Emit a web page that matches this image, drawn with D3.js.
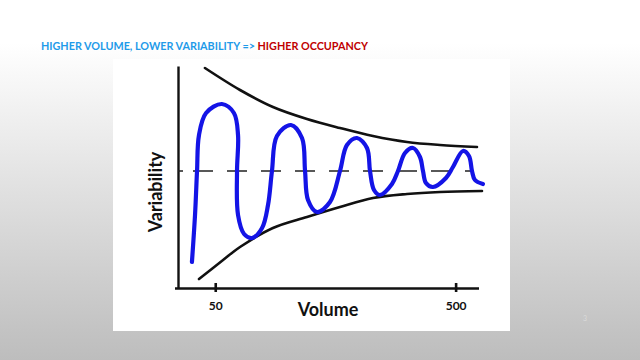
<!DOCTYPE html>
<html>
<head>
<meta charset="utf-8">
<script src="https://cdn.jsdelivr.net/npm/d3@7"></script>
<style>
  html, body { margin: 0; padding: 0; }
  svg { display: block; }
</style>
</head>
<body>
<svg id="chart" width="640" height="360"></svg>
<script>
// Hand-drawn curve: volume (log axis) and variability (0 = mean)
const blueVolume = [40.0, 41.2, 42.0, 42.8, 45.8, 53.3, 59.8, 62.2, 61.6, 62.2, 65.9, 71.1, 78.3, 82.9, 86.1, 90.3,
  103.3, 114.8, 118.2, 121.6, 132.5, 150.1, 165.2, 176.6, 194.4, 213.9, 220.2, 228.8, 242.3, 271.8, 287.9, 307.9,
  332.4, 355.4, 365.8, 376.4, 402.5, 455.8, 487.5, 536.6, 568.3, 584.9, 601.9, 649.6];
const blueVariability = [-0.91, -0.44, 0, 0.36, 0.58, 0.67, 0.58, 0.36, 0, -0.44, -0.63, -0.67, -0.57, -0.34, 0, 0.35,
  0.46, 0.33, 0, -0.29, -0.41, -0.31, 0, 0.26, 0.33, 0.23, 0, -0.19, -0.24, -0.13, 0, 0.18,
  0.23, 0.14, 0, -0.12, -0.16, -0.07, 0.04, 0.20, 0.15, 0, -0.09, -0.13];

// Upper and lower limits
const upperVolume = [45.3, 63.4, 86.9, 120.4, 165.2, 226.6, 313.9, 430.5, 613.6];
const upperVariability = [1.03, 0.81, 0.64, 0.52, 0.43, 0.35, 0.29, 0.26, 0.24];
const lowerVolume = [42.8, 53.9, 63.4, 86.9, 120.4, 165.2, 226.6, 313.9, 430.5, 643.8];
const lowerVariability = [-1.08, -0.89, -0.76, -0.57, -0.46, -0.36, -0.27, -0.23, -0.21, -0.20];

const meanVariability = 0;
const xTicks = [50, 500];

const svg = d3.select("#chart");

// slide background
const grad = svg.append("defs").append("linearGradient")
  .attr("id", "bg").attr("x1", 0).attr("y1", 0).attr("x2", 0).attr("y2", 1);
grad.append("stop").attr("offset", "12%").attr("stop-color", "#ffffff");
grad.append("stop").attr("offset", "100%").attr("stop-color", "#bdbdbd");
svg.append("rect").attr("width", 640).attr("height", 360).attr("fill", "url(#bg)");

// title
const title = svg.append("text")
  .attr("x", 41).attr("y", 50)
  .style("font-family", "Lato")
  .style("font-weight", "bold")
  .style("font-size", "10.8px");
title.append("tspan").attr("fill", "#1f9be9").text("HIGHER VOLUME, LOWER VARIABILITY => ");
title.append("tspan").attr("fill", "#c00000").text("HIGHER OCCUPANCY");

svg.append("text")
  .attr("x", 585).attr("y", 321)
  .attr("text-anchor", "middle")
  .attr("fill", "#dadada")
  .style("font-family", "Lato")
  .style("font-size", "7px")
  .text("3");

// white picture box
svg.append("rect")
  .attr("x", 113).attr("y", 59)
  .attr("width", 397).attr("height", 272)
  .attr("fill", "#ffffff");

const x = d3.scaleLog().domain([35, 650]).range([178, 483]);
const y = d3.scaleLinear().domain([-1.17, 1.05]).range([288, 66]);

const line = d3.line()
  .x(d => x(d[0]))
  .y(d => y(d[1]))
  .curve(d3.curveCatmullRom.alpha(0.5));

// axes
const xAxis = svg.append("g")
  .attr("transform", `translate(0,${y(-1.17)})`)
  .call(d3.axisBottom(x).tickValues(xTicks).tickFormat(d3.format("d")).tickSizeOuter(0).tickSize(5));
xAxis.select(".domain")
  .attr("d", `M175,0.5H479`)
  .attr("stroke", "#111").attr("stroke-width", 2.6);
xAxis.selectAll(".tick line")
  .attr("y1", -5).attr("y2", 4)
  .attr("stroke", "#111").attr("stroke-width", 2.6);
xAxis.selectAll(".tick text")
  .attr("y", 13)
  .attr("fill", "#111")
  .style("font-family", "Lato")
  .style("font-weight", "bold")
  .style("font-size", "12px");

const yAxis = svg.append("g")
  .attr("transform", `translate(${x(35)},0)`)
  .call(d3.axisLeft(y).tickValues([]).tickSizeOuter(0));
yAxis.select(".domain").attr("stroke", "#111").attr("stroke-width", 2.4);

// axis titles
svg.append("text")
  .attr("x", 328).attr("y", 316)
  .attr("text-anchor", "middle")
  .attr("fill", "#111")
  .style("font-family", "Lato")
  .style("font-weight", "bold")
  .style("font-size", "18px")
  .text("Volume");

svg.append("text")
  .attr("transform", "translate(162,192) rotate(-90)")
  .attr("text-anchor", "middle")
  .attr("fill", "#111")
  .style("font-family", "Lato")
  .style("font-weight", "bold")
  .style("font-size", "18px")
  .text("Variability");

// mean line
svg.append("line")
  .attr("x1", x(35)).attr("x2", x(620))
  .attr("y1", y(meanVariability)).attr("y2", y(meanVariability))
  .attr("stroke", "#222").attr("stroke-width", 1.5)
  .attr("stroke-dasharray", "5,10,20,14,20,14,20,14,20,14,20,14,20,14,20,14,20,14");

// limits
svg.append("path")
  .datum(d3.zip(upperVolume, upperVariability))
  .attr("d", line)
  .attr("fill", "none").attr("stroke", "#111").attr("stroke-width", 2.6).attr("stroke-linecap", "round");
svg.append("path")
  .datum(d3.zip(lowerVolume, lowerVariability))
  .attr("d", line)
  .attr("fill", "none").attr("stroke", "#111").attr("stroke-width", 2.6).attr("stroke-linecap", "round");

// blue curve
svg.append("path")
  .datum(d3.zip(blueVolume, blueVariability))
  .attr("d", line)
  .attr("fill", "none").attr("stroke", "#1414e6").attr("stroke-width", 4.2)
  .attr("stroke-linecap", "round").attr("stroke-linejoin", "round");
</script>
</body>
</html>
